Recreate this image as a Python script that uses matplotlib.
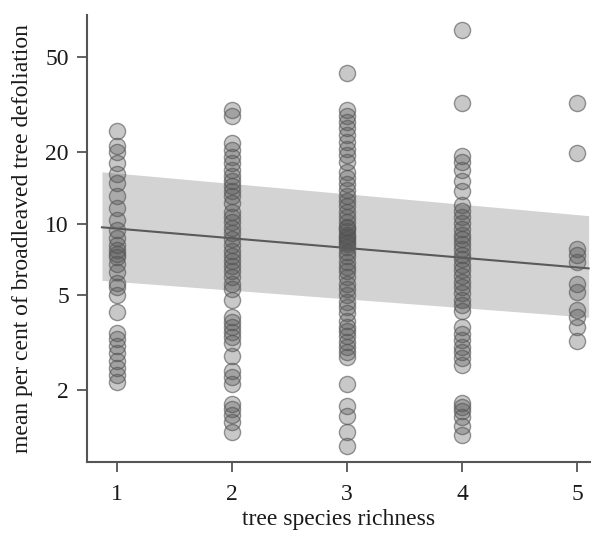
import matplotlib
matplotlib.use("Agg")
import matplotlib.pyplot as plt
import numpy as np

plt.rcParams['font.family'] = ['Liberation Serif', 'DejaVu Serif']

richness = [1, 2, 3, 4, 5]
defol_1 = [24.5, 21.2, 20.0, 18.0, 16.2, 14.8, 13.1, 11.6, 10.4, 9.44, 8.74, 8.17, 7.78,
           7.49, 7.21, 6.80, 6.24, 5.66, 5.40, 5.00, 4.25, 3.47, 3.27, 3.06, 2.86, 2.65,
           2.47, 2.31, 2.16]
defol_2 = [30.0, 28.3, 21.8, 20.4, 19.1, 18.0, 16.8, 15.9, 15.1, 14.4, 13.7, 13.0, 12.2,
           11.2, 10.7, 10.2, 9.6, 9.1, 8.6, 8.1, 7.7, 7.35, 7.0, 6.67, 6.3, 5.95, 5.6, 5.3,
           4.8, 4.05, 3.85, 3.67, 3.5, 3.33, 3.15, 2.78, 2.4, 2.27, 2.12, 1.75, 1.67, 1.57,
           1.47, 1.34]
defol_3 = [42.8, 30.0, 28.3, 26.7, 25.2, 23.6, 22.0, 20.6, 19.4, 18.2, 16.5, 15.6, 14.7,
           13.9, 13.1, 12.4, 11.8, 11.2, 10.7, 10.2, 9.7, 9.6, 9.3, 9.0, 8.8, 8.6, 8.4, 8.2,
           8.0, 7.6, 7.3, 6.9, 6.6, 6.3, 5.95, 5.6, 5.3, 5.0, 4.7, 4.45, 4.2, 3.9, 3.7,
           3.55, 3.37, 3.2, 3.05, 2.9, 2.75, 2.12, 1.71, 1.56, 1.34, 1.17]
defol_4 = [64.8, 32.1, 19.3, 18.2, 16.8, 15.1, 13.7, 12.0, 11.3, 10.7, 10.1, 9.5, 9.0,
           8.6, 8.2, 7.8, 7.4, 7.1, 6.7, 6.4, 6.05, 5.7, 5.4, 5.1, 4.8, 4.55, 4.3, 3.7,
           3.43, 3.24, 3.05, 2.88, 2.72, 2.55, 1.77, 1.70, 1.63, 1.54, 1.42, 1.30]
defol_5 = [32.1, 19.8, 7.86, 7.42, 6.93, 5.56, 5.15, 4.33, 4.05, 3.7, 3.21]
groups = [defol_1, defol_2, defol_3, defol_4, defol_5]

fit_x = [0.87, 5.1]
fit_mean = [9.65, 6.49]
fit_upper = [16.5, 10.8]
fit_lower = [5.78, 4.05]

yticks = [2, 5, 10, 20, 50]

fig = plt.figure(figsize=(6.05, 5.33), dpi=100)
ax = fig.add_axes([0.1438, 0.1332, 0.831, 0.8386])
ax.set_yscale('log')

ax.fill_between(fit_x, fit_lower, fit_upper, color='#d3d3d3', lw=0, zorder=1)

for r, vals in zip(richness, groups):
    ax.scatter([r] * len(vals), vals, s=135, facecolors=[(0.33, 0.33, 0.33, 0.32)],
               edgecolors=[(0.33, 0.33, 0.33, 0.6)], linewidths=1.0, zorder=2)

ax.plot(fit_x, fit_mean, color='#5a5a5a', lw=1.5, zorder=3)

ax.set_xlim(0.74, 5.11)
ax.set_ylim(1.0, 75)
ax.set_xticks(richness)
ax.set_xticklabels([str(r) for r in richness])
ax.set_yticks(yticks)
ax.set_yticklabels([str(t) for t in yticks])
ax.yaxis.set_minor_locator(matplotlib.ticker.NullLocator())

for s in ['top', 'right']:
    ax.spines[s].set_visible(False)
for s in ['left', 'bottom']:
    ax.spines[s].set_color('#555555')
    ax.spines[s].set_linewidth(1.5)
ax.tick_params(direction='out', length=7, width=1.3, color='#555555',
               labelsize=17, labelcolor='#1a1a1a')
ax.tick_params(axis='x', pad=9)
ax.tick_params(axis='y', pad=6)

ax.set_xlabel('tree species richness', fontsize=17, color='#1a1a1a', labelpad=3)
ax.set_ylabel('mean per cent of broadleaved tree defoliation', fontsize=17,
              color='#1a1a1a', labelpad=9)

fig.savefig('out.png', dpi=100)
